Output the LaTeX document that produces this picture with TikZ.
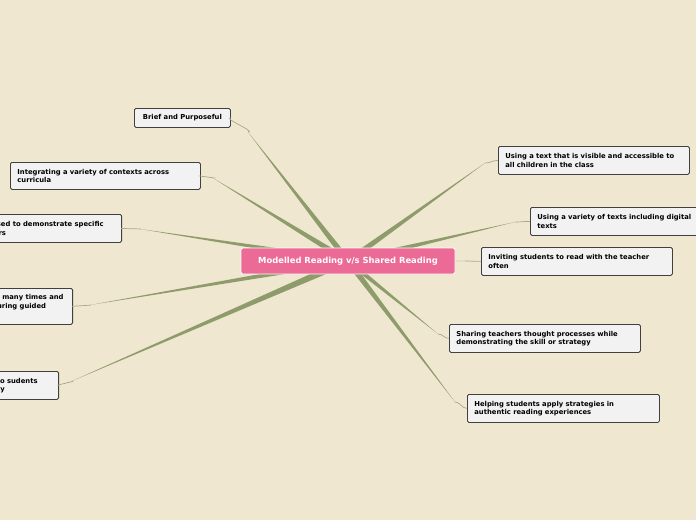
\documentclass[tikz,border=0pt]{standalone}
\usepackage{fontspec}
\setmainfont{DejaVu Sans}
\usetikzlibrary{calc}
\definecolor{bg}{HTML}{EFE7D0}
\definecolor{br}{HTML}{8E9B6A}
\definecolor{thin}{HTML}{A4AB82}
\definecolor{pk}{HTML}{EC6A96}
\tikzset{
 leaf/.style={draw=black!75,fill=black!5,rounded corners=1.5pt,line width=0.8pt,font=\bfseries\fontsize{6.8}{8.4}\selectfont,align=left,inner xsep=7pt,inner ysep=0pt,anchor=north west},
 thinl/.style={draw=thin,line width=0.7pt}
}
\newcommand{\branch}[4]{% start, end, box anchor, width
 \fill[br] ($(#1)!#4!90:(#2)$) -- (#2) -- ($(#1)!#4!-90:(#2)$) -- cycle;
 \draw[thinl] (#2) to[out=0,in=180] (#3);}
\begin{document}
\begin{tikzpicture}[x=1pt,y=-1pt]
\fill[bg] (0,0) rectangle (696,520);
\useasboundingbox (0,0) rectangle (696,520);
\coordinate (C) at (348,261);
% leaves
\node[leaf,minimum width=96pt,minimum height=19pt] (b1) at (134,108) {Brief and Purposeful};
\node[leaf,minimum width=190pt,minimum height=27pt,text width=176pt] (b2) at (10,162) {Integrating a variety of contexts across\\curricula};
\node[leaf,anchor=north east,minimum height=28pt] (b3) at (122,214) {Can be used to demonstrate specific\hspace*{11pt}\\behaviours};
\node[leaf,anchor=north east,minimum height=36pt] (b4) at (73,288) {Texts can be read many times and\hspace*{2pt}\\revisited again during guided\\reading};
\node[leaf,anchor=north east,minimum height=28pt] (b5) at (59,371) {Demonstrating to sudents\hspace*{14pt}\\a skill or strategy};
\node[leaf,minimum width=191pt,minimum height=28pt,text width=177pt] (r1) at (498,146) {Using a text that is visible and accessible to\\all children in the class};
\node[leaf,minimum width=190pt,minimum height=28pt,text width=176pt] (r2) at (530,207) {Using a variety of texts including digital\\texts};
\node[leaf,minimum width=191pt,minimum height=28pt,text width=177pt] (r3) at (481,247) {Inviting students to read with the teacher\\often};
\node[leaf,minimum width=191pt,minimum height=28pt,text width=177pt] (r4) at (449,324) {Sharing teachers thought processes while\\demonstrating the skill or strategy};
\node[leaf,minimum width=192pt,minimum height=28pt,text width=178pt] (r5) at (467,394) {Helping students apply strategies in\\authentic reading experiences};
% branches
\branch{C}{248,132}{b1.east}{3pt}
\branch{C}{213,178}{b2.east}{3pt}
\branch{C}{140,229}{b3.east}{3pt}
\branch{C}{90,305}{b4.east}{3pt}
\branch{C}{72,381}{b5.east}{3.5pt}
\branch{C}{485,163}{r1.west}{3pt}
\branch{C}{515,222}{r2.west}{3pt}
\branch{C}{465,261}{r3.west}{2pt}
\branch{C}{438,334}{r4.west}{2.5pt}
\branch{C}{455,402}{r5.west}{3pt}
\node[fill=pk,draw=white,line width=0.8pt,rounded corners=2pt,minimum width=214pt,minimum height=26pt,text=white,font=\bfseries\fontsize{8.4}{10}\selectfont] (c) at (C) {Modelled Reading v/s Shared Reading};
\end{tikzpicture}
\end{document}
